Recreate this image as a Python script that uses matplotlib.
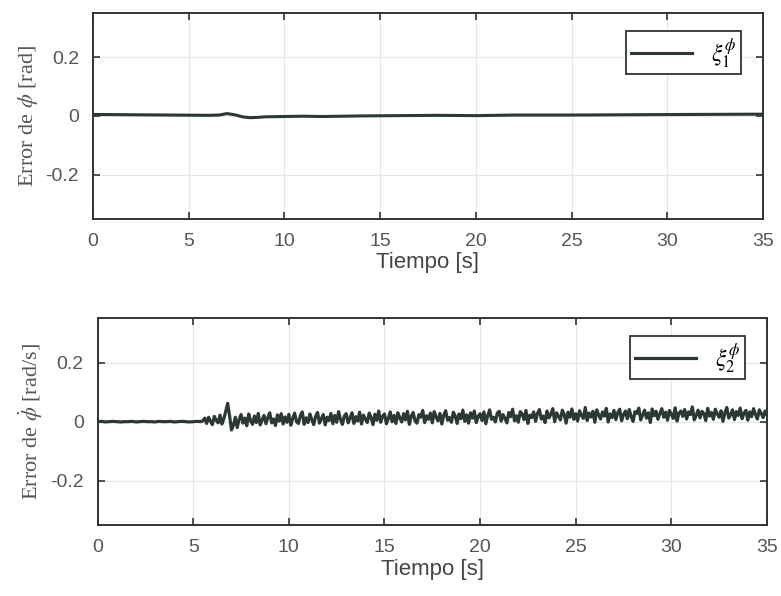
import numpy as np
import matplotlib
matplotlib.use("Agg")
import matplotlib.pyplot as plt

# top: error of phi [rad], values in thousandths
t_phi = [0, 2, 4, 6, 6.6, 7.0, 7.4, 7.8, 8.2, 8.6, 9.0, 10, 11, 12, 14, 16,
         18, 20, 22, 25, 28, 31, 35]
e_phi = [5, 4, 3, 2, 3, 8, 4, -3, -6, -5, -3, -2, -1, -2, 0, 1,
         2, 1, 3, 3, 4, 5, 6]

# bottom: error of phi dot [rad/s], thousandths
# calm part, 0 .. 5.4 s every 0.2 s
e_dphi_calm = [0, 1, -1, 0, 1, 0, -1, 0, 0, 1, -1, 0, 1, 0,
               0, -1, 1, 0, 0, 1, -1, 0, 1, 0, -1, 0, 1, 0]
# noisy part, 5.5 .. 35 s every 0.1 s
e_dphi_noisy = [
    3, 12, -6, 15, 2, -10, 18, 5, -4, 22, -8, 10, 35, 62, 20, -28, -12, 15, -20, 8,
    24, -5, 12, -14, 26, 3, -9, 19, -3, 28, -11, 6, 21, -7, 14, 30, -4, 9, -13, 23,
    2, 27, -8, 16, -2, 25, -12, 11, 29, 0, -6, 20, 33, -9, 13, -3, 26, 7, -10, 18,
    31, -5, 10, 24, -11, 15, 4, 28, -7, 21, -2, 34, 8, -9, 19, 27, -4, 12, 30, -6,
    17, 2, 32, -8, 22, 9, -3, 29, 14, -10, 25, 5, 36, -2, 18, 26, -7, 11, 33, 0,
    21, -6, 30, 13, -1, 27, 6, 35, -9, 19, 31, 2, -5, 24, 15, 38, -3, 20, 8, 29,
    -4, 34, 16, 3, 28, -8, 22, 37, 5, 14, -2, 32, 19, -6, 26, 10, 39, 1, 23, -5,
    30, 12, 36, -3, 18, 27, 4, 33, -7, 21, 40, 8, 15, -1, 29, 35, 2, 24, 11, -4,
    31, 17, 42, 3, 20, -2, 34, 26, 7, 38, -6, 22, 14, 33, 1, 28, 41, 9, 19, -3,
    36, 13, 25, 44, 0, 30, 18, 6, 39, 24, -5, 32, 15, 43, 8, 27, 2, 37, 21, 11,
    48, 4, 29, 16, 35, -2, 40, 23, 9, 33, 19, 45, -1, 26, 14, 38, 7, 31, 42, 3,
    24, 36, 10, 41, 17, 1, 34, 28, 46, 6, 22, 39, 12, 30, -3, 43, 20, 35, 8, 27,
    44, 15, 32, 5, 38, 25, 11, 47, 2, 29, 36, 18, 41, 9, 33, 24, 50, 6, 21, 39,
    13, 35, 27, 4, 45, 19, 31, 8, 42, 26, 15, 37, 1, 30, 48, 12, 23, 40, 7, 34,
    21, 46, 10, 29, 38, 5, 33, 17, 44, 24, 9, 40, 28, 14, 36, 22,
]
t_dphi = np.concatenate([np.linspace(0, 5.4, len(e_dphi_calm)),
                         np.linspace(5.5, 35, len(e_dphi_noisy))])
e_dphi = e_dphi_calm + e_dphi_noisy

xticks = [0, 5, 10, 15, 20, 25, 30, 35]
yticks = [-0.2, 0, 0.2]
ytick_labels = ["-0.2", "0", "0.2"]

line_color = "#2b3833"
sans = ["Liberation Sans", "DejaVu Sans"]
serif = ["Liberation Serif", "DejaVu Serif"]
plt.rcParams["mathtext.fontset"] = "stix"

fig = plt.figure(figsize=(7.81, 5.96), dpi=100)
ax1 = fig.add_axes([0.119, 0.633, 0.858, 0.345])
ax2 = fig.add_axes([0.125, 0.119, 0.857, 0.347])

panels = [
    (ax1, t_phi, e_phi, r"Error de $\phi$ [rad]", r"$\xi_1^{\phi}$", 2.2),
    (ax2, t_dphi, e_dphi, r"Error de $\dot{\phi}$ [rad/s]", r"$\xi_2^{\phi}$", 2.3),
]

for ax, t, e, ylab, leg, lw in panels:
    ax.plot(t, np.array(e) / 1000.0, color=line_color, lw=lw, label=leg)
    ax.set_xlim(0, 35)
    ax.set_ylim(-0.35, 0.35)
    ax.set_xticks(xticks)
    ax.set_yticks(yticks)
    ax.set_yticklabels(ytick_labels)
    ax.grid(True, color="#e6e6e6", lw=0.8)
    ax.tick_params(direction="in", top=True, right=True, length=5,
                   width=1.2, labelsize=14, pad=10, colors="#333333")
    for lab in ax.get_xticklabels() + ax.get_yticklabels():
        lab.set_family(sans)
        lab.set_color("#555555")
    for sp in ax.spines.values():
        sp.set_linewidth(1.4)
        sp.set_color("#333333")
    ax.set_xlabel("Tiempo [s]", family=sans, fontsize=16, color="#444444",
                  labelpad=2)
    ax.set_ylabel(ylab, family=serif, fontsize=16, color="#555555",
                  labelpad=4)
    lg = ax.legend(loc="upper right", fontsize=17, handlelength=2.6,
                   fancybox=False, framealpha=1, borderpad=0.2,
                   bbox_to_anchor=(0.985, 0.97))
    lg.get_frame().set_edgecolor("#333333")
    lg.get_frame().set_linewidth(1.3)

fig.savefig("out.png", dpi=100)
